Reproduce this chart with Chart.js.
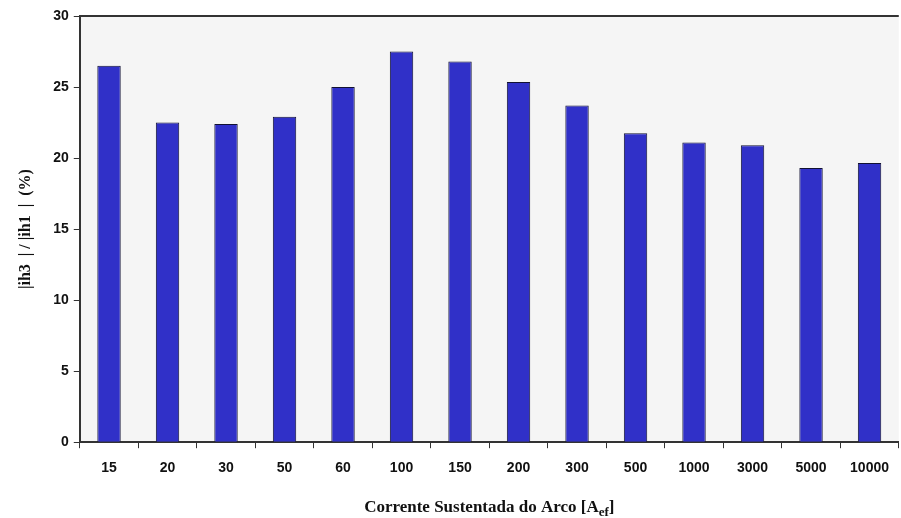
<!DOCTYPE html>
<html>
<head>
<meta charset="utf-8">
<script src="https://cdn.jsdelivr.net/npm/chart.js@4"></script>
<style>
  html, body { margin: 0; padding: 0; background: #ffffff; }
  #wrap { width: 901px; height: 518px; position: relative; }
</style>
</head>
<body>
<div id="wrap"><canvas id="myChart"></canvas></div>
<script>
const categorias = ['15', '20', '30', '50', '60', '100', '150', '200', '300', '500', '1000', '3000', '5000', '10000'];
const valores = [26.5, 22.5, 22.4, 22.9, 25.0, 27.5, 26.8, 25.35, 23.7, 21.75, 21.1, 20.9, 19.3, 19.65];
const ticksY = [0, 5, 10, 15, 20, 25, 30];

// fondo gris del area y linea superior
const fondo = {
    id: 'fondo',
    beforeDraw(chart) {
        const a = chart.chartArea;
        const ctx = chart.ctx;
        ctx.save();
        ctx.fillStyle = '#f5f5f5';
        ctx.fillRect(a.left, a.top, a.right - a.left, a.bottom - a.top);
        ctx.restore();
    },
    afterDraw(chart) {
        const a = chart.chartArea;
        const ctx = chart.ctx;
        ctx.save();
        ctx.strokeStyle = '#333';
        ctx.lineWidth = 2;
        ctx.beginPath();
        ctx.moveTo(a.left, a.top);
        ctx.lineTo(a.right, a.top);
        ctx.stroke();

        // titulo eje x con subindice
        const y = 507;
        const cx = (a.left + a.right) / 2;
        const t1 = 'Corrente Sustentada do Arco [A';
        const sub = 'ef';
        const t2 = ']';
        ctx.fillStyle = '#111';
        ctx.textBaseline = 'alphabetic';
        ctx.font = 'bold 17px "Liberation Serif"';
        const w1 = ctx.measureText(t1).width;
        const w3 = ctx.measureText(t2).width;
        ctx.font = 'bold 13px "Liberation Serif"';
        const w2 = ctx.measureText(sub).width;
        let x = cx - (w1 + w2 + w3) / 2;
        ctx.font = 'bold 17px "Liberation Serif"';
        ctx.fillText(t1, x, y + 5);
        x += w1;
        ctx.font = 'bold 13px "Liberation Serif"';
        ctx.fillText(sub, x, y + 9);
        x += w2;
        ctx.font = 'bold 17px "Liberation Serif"';
        ctx.fillText(t2, x, y + 5);
        ctx.restore();
    }
};

const ctx = document.getElementById('myChart').getContext('2d');

const myChart = new Chart(ctx, {
    type: 'bar',
    data: {
        labels: categorias,
        datasets: [{
            data: valores,
            backgroundColor: '#3030c8',
            borderColor: '#111133',
            borderWidth: 1,
            categoryPercentage: 1.0,
            barPercentage: 0.4
        }]
    },
    options: {
        responsive: true,
        maintainAspectRatio: false,
        animation: false,
        layout: { padding: { top: 16, right: 0, bottom: 29, left: 16 } },
        plugins: {
            legend: { display: false },
            tooltip: { enabled: false }
        },
        scales: {
            x: {
                grid: { drawOnChartArea: false, drawTicks: true, tickLength: 6, color: '#333', offset: true },
                border: { display: true, color: '#333', width: 2 },
                ticks: {
                    color: '#111',
                    font: { family: '"Liberation Sans"', weight: 'bold', size: 14 },
                    padding: 12,
                    maxRotation: 0,
                    autoSkip: false
                }
            },
            y: {
                min: 0,
                max: 30,
                afterBuildTicks(axis) {
                    axis.ticks = ticksY.map(v => ({ value: v }));
                },
                grid: { drawOnChartArea: false, drawTicks: true, tickLength: 6, color: '#333' },
                border: { display: true, color: '#333', width: 2 },
                ticks: {
                    color: '#111',
                    font: { family: '"Liberation Sans"', weight: 'bold', size: 14 },
                    padding: 5
                },
                title: {
                    display: true,
                    text: '|ih3  | / |ih1  |  (%)',
                    color: '#111',
                    font: { family: '"Liberation Serif"', weight: 'bold', size: 16 },
                    padding: { top: 0, bottom: 13 }
                }
            }
        }
    },
    plugins: [fondo]
});
</script>
</body>
</html>
